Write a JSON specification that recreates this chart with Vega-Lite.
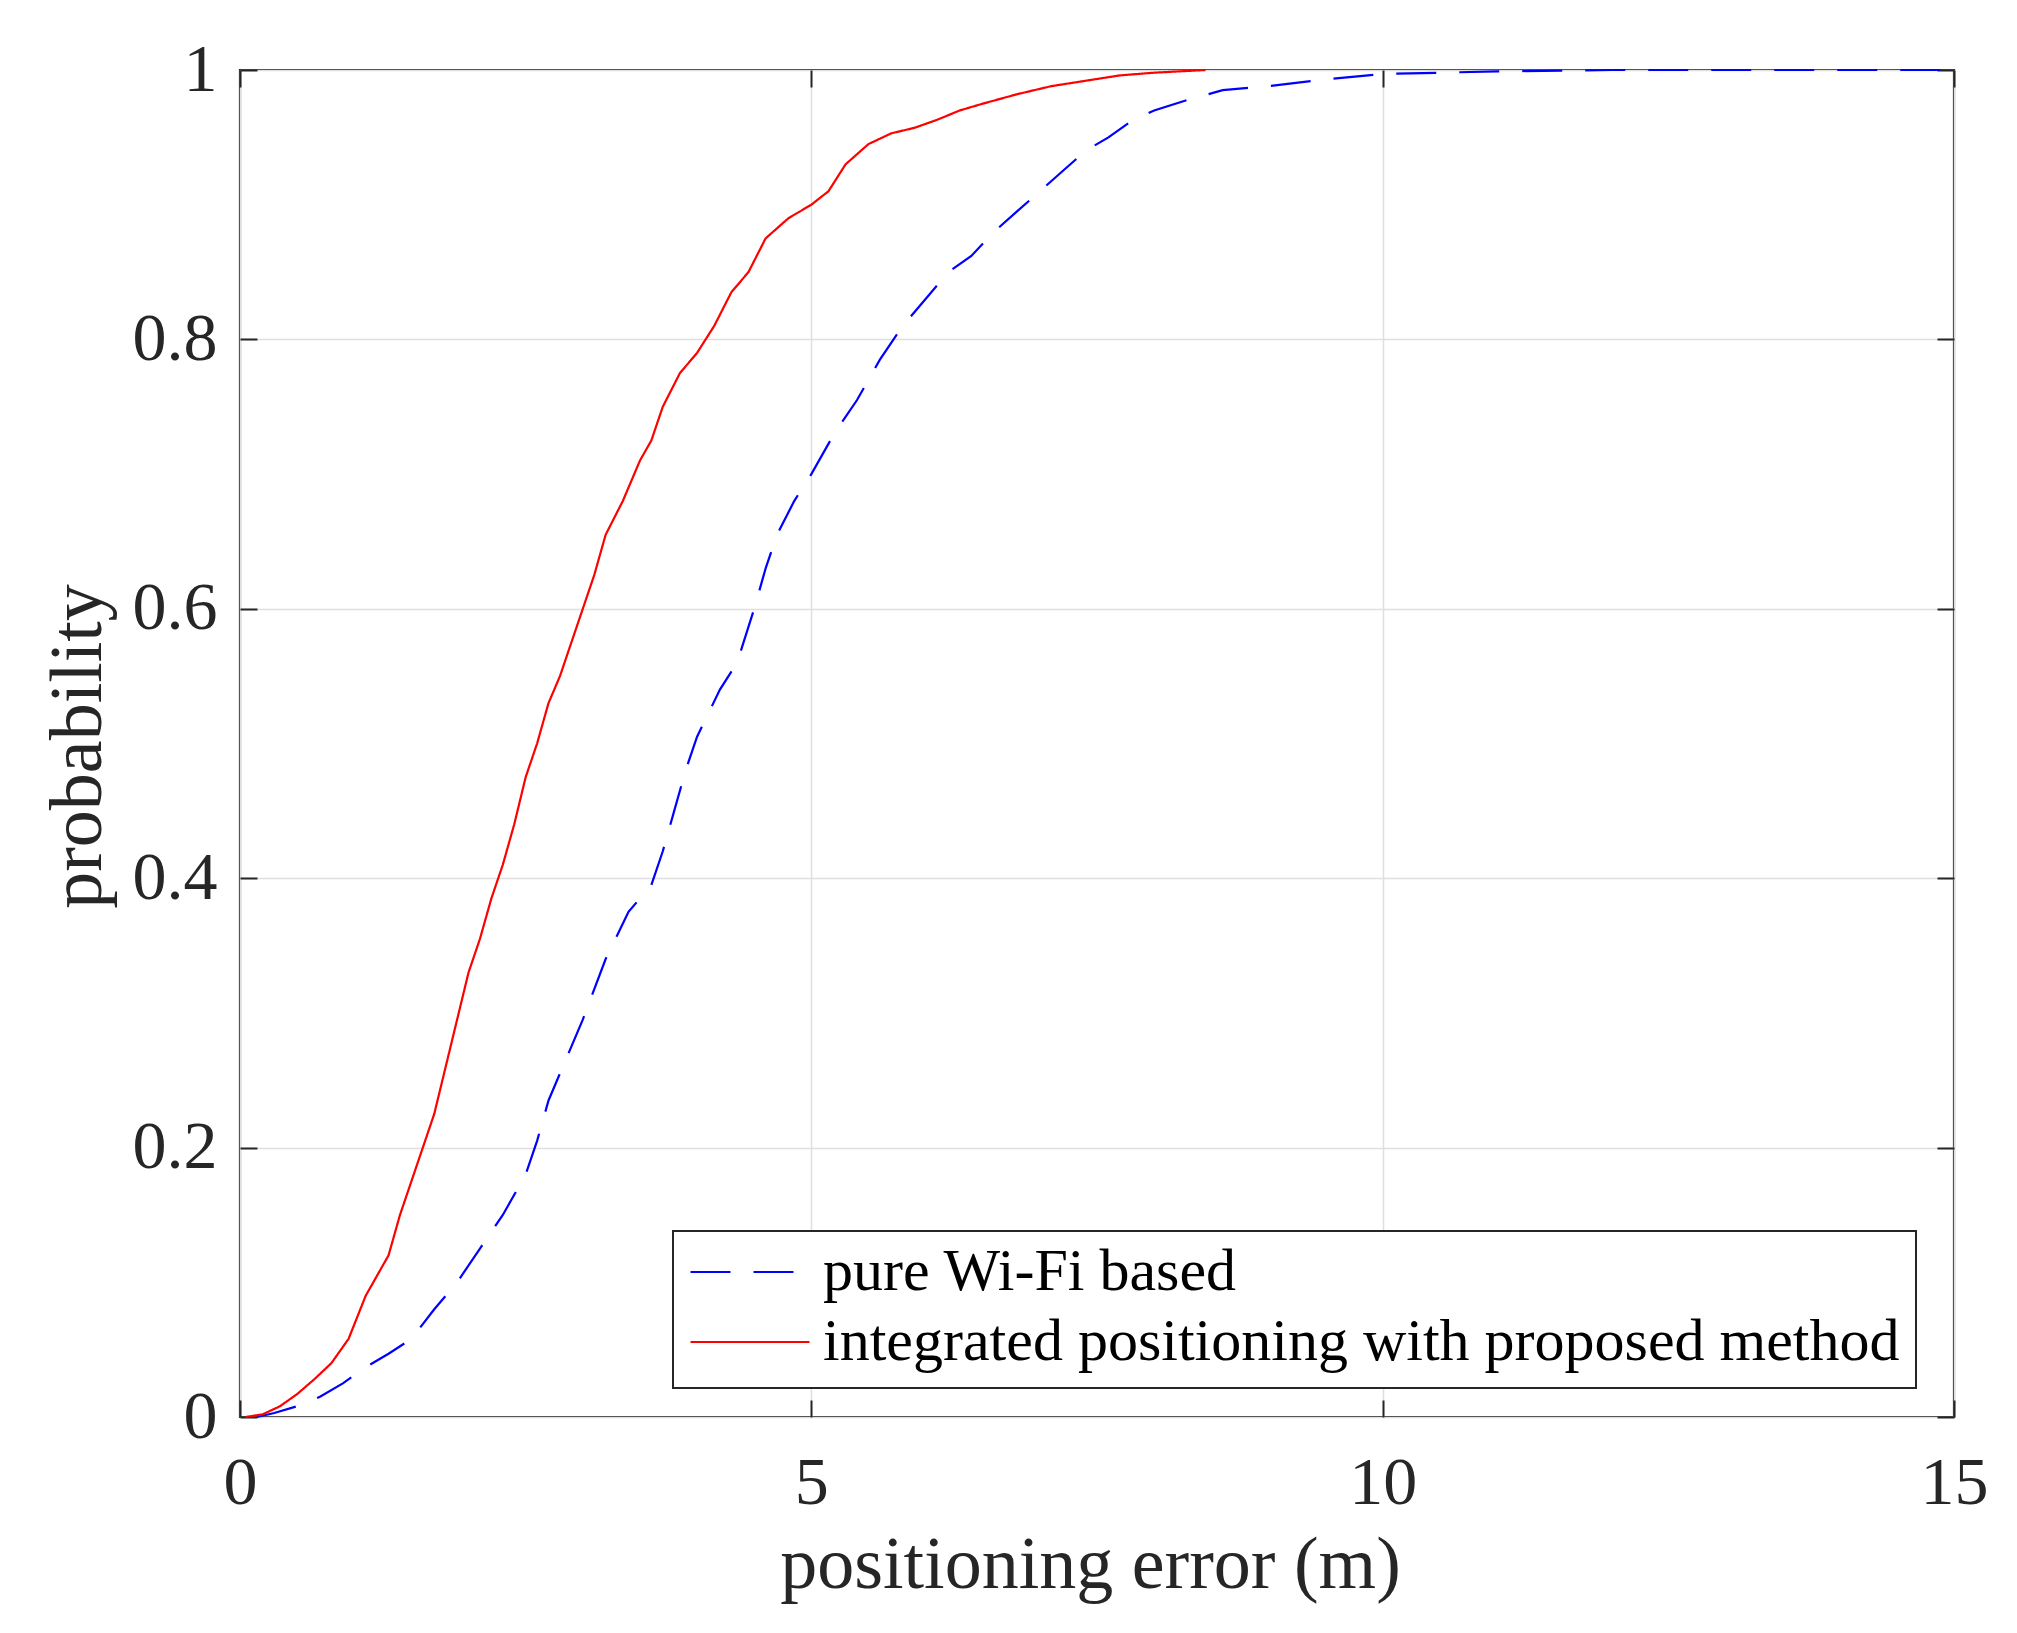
{
  "$schema": "https://vega.github.io/schema/vega-lite/v6.json",
  "autosize": {"type": "none"},
  "padding": {"left": 240, "top": 70, "right": 63, "bottom": 216},
  "width": 1714,
  "height": 1347,
  "background": "white",
  "config": {
    "view": {"stroke": "#262626", "strokeWidth": 2.2},
    "font": "Liberation Serif"
  },
  "datasets": {
    "cdf": [
      {"series": "pure Wi-Fi based", "error": 0.15, "prob": 0},
      {"series": "pure Wi-Fi based", "error": 0.3, "prob": 0.003},
      {"series": "pure Wi-Fi based", "error": 0.5, "prob": 0.008},
      {"series": "pure Wi-Fi based", "error": 0.7, "prob": 0.015},
      {"series": "pure Wi-Fi based", "error": 0.9, "prob": 0.025},
      {"series": "pure Wi-Fi based", "error": 1.1, "prob": 0.037},
      {"series": "pure Wi-Fi based", "error": 1.3, "prob": 0.047},
      {"series": "pure Wi-Fi based", "error": 1.5, "prob": 0.058},
      {"series": "pure Wi-Fi based", "error": 1.7, "prob": 0.08},
      {"series": "pure Wi-Fi based", "error": 1.9, "prob": 0.1},
      {"series": "pure Wi-Fi based", "error": 2.1, "prob": 0.125},
      {"series": "pure Wi-Fi based", "error": 2.3, "prob": 0.15},
      {"series": "pure Wi-Fi based", "error": 2.5, "prob": 0.18},
      {"series": "pure Wi-Fi based", "error": 2.6, "prob": 0.205},
      {"series": "pure Wi-Fi based", "error": 2.7, "prob": 0.235},
      {"series": "pure Wi-Fi based", "error": 2.8, "prob": 0.255},
      {"series": "pure Wi-Fi based", "error": 3.0, "prob": 0.295},
      {"series": "pure Wi-Fi based", "error": 3.2, "prob": 0.34},
      {"series": "pure Wi-Fi based", "error": 3.4, "prob": 0.375},
      {"series": "pure Wi-Fi based", "error": 3.6, "prob": 0.395},
      {"series": "pure Wi-Fi based", "error": 3.7, "prob": 0.42},
      {"series": "pure Wi-Fi based", "error": 3.8, "prob": 0.45},
      {"series": "pure Wi-Fi based", "error": 3.9, "prob": 0.48},
      {"series": "pure Wi-Fi based", "error": 4.0, "prob": 0.505},
      {"series": "pure Wi-Fi based", "error": 4.2, "prob": 0.54},
      {"series": "pure Wi-Fi based", "error": 4.35, "prob": 0.56},
      {"series": "pure Wi-Fi based", "error": 4.5, "prob": 0.6},
      {"series": "pure Wi-Fi based", "error": 4.6, "prob": 0.63},
      {"series": "pure Wi-Fi based", "error": 4.7, "prob": 0.655},
      {"series": "pure Wi-Fi based", "error": 4.85, "prob": 0.68},
      {"series": "pure Wi-Fi based", "error": 5.0, "prob": 0.7},
      {"series": "pure Wi-Fi based", "error": 5.2, "prob": 0.73},
      {"series": "pure Wi-Fi based", "error": 5.4, "prob": 0.755},
      {"series": "pure Wi-Fi based", "error": 5.6, "prob": 0.785},
      {"series": "pure Wi-Fi based", "error": 5.8, "prob": 0.81},
      {"series": "pure Wi-Fi based", "error": 6.0, "prob": 0.83},
      {"series": "pure Wi-Fi based", "error": 6.2, "prob": 0.85},
      {"series": "pure Wi-Fi based", "error": 6.4, "prob": 0.862},
      {"series": "pure Wi-Fi based", "error": 6.6, "prob": 0.88},
      {"series": "pure Wi-Fi based", "error": 6.8, "prob": 0.895},
      {"series": "pure Wi-Fi based", "error": 7.0, "prob": 0.91},
      {"series": "pure Wi-Fi based", "error": 7.2, "prob": 0.925},
      {"series": "pure Wi-Fi based", "error": 7.4, "prob": 0.94},
      {"series": "pure Wi-Fi based", "error": 7.6, "prob": 0.95},
      {"series": "pure Wi-Fi based", "error": 7.8, "prob": 0.962},
      {"series": "pure Wi-Fi based", "error": 8.0, "prob": 0.97},
      {"series": "pure Wi-Fi based", "error": 8.3, "prob": 0.978},
      {"series": "pure Wi-Fi based", "error": 8.6, "prob": 0.985},
      {"series": "pure Wi-Fi based", "error": 9.0, "prob": 0.988},
      {"series": "pure Wi-Fi based", "error": 9.5, "prob": 0.993},
      {"series": "pure Wi-Fi based", "error": 10.0, "prob": 0.997},
      {"series": "pure Wi-Fi based", "error": 10.5, "prob": 0.998},
      {"series": "pure Wi-Fi based", "error": 11.0, "prob": 0.999},
      {"series": "pure Wi-Fi based", "error": 12.0, "prob": 1.0},
      {"series": "pure Wi-Fi based", "error": 15.0, "prob": 1.0},
      {"series": "integrated positioning with proposed method", "error": 0.05, "prob": 0},
      {"series": "integrated positioning with proposed method", "error": 0.2, "prob": 0.002},
      {"series": "integrated positioning with proposed method", "error": 0.35, "prob": 0.008},
      {"series": "integrated positioning with proposed method", "error": 0.5, "prob": 0.017},
      {"series": "integrated positioning with proposed method", "error": 0.65, "prob": 0.028},
      {"series": "integrated positioning with proposed method", "error": 0.8, "prob": 0.04},
      {"series": "integrated positioning with proposed method", "error": 0.95, "prob": 0.058},
      {"series": "integrated positioning with proposed method", "error": 1.1, "prob": 0.09},
      {"series": "integrated positioning with proposed method", "error": 1.2, "prob": 0.105},
      {"series": "integrated positioning with proposed method", "error": 1.3, "prob": 0.12},
      {"series": "integrated positioning with proposed method", "error": 1.4, "prob": 0.15},
      {"series": "integrated positioning with proposed method", "error": 1.5, "prob": 0.175},
      {"series": "integrated positioning with proposed method", "error": 1.6, "prob": 0.2},
      {"series": "integrated positioning with proposed method", "error": 1.7, "prob": 0.225},
      {"series": "integrated positioning with proposed method", "error": 1.8, "prob": 0.26},
      {"series": "integrated positioning with proposed method", "error": 1.9, "prob": 0.295},
      {"series": "integrated positioning with proposed method", "error": 2.0, "prob": 0.33},
      {"series": "integrated positioning with proposed method", "error": 2.1, "prob": 0.355},
      {"series": "integrated positioning with proposed method", "error": 2.2, "prob": 0.385},
      {"series": "integrated positioning with proposed method", "error": 2.3, "prob": 0.41},
      {"series": "integrated positioning with proposed method", "error": 2.4, "prob": 0.44},
      {"series": "integrated positioning with proposed method", "error": 2.5, "prob": 0.475},
      {"series": "integrated positioning with proposed method", "error": 2.6, "prob": 0.5},
      {"series": "integrated positioning with proposed method", "error": 2.7, "prob": 0.53},
      {"series": "integrated positioning with proposed method", "error": 2.8, "prob": 0.55},
      {"series": "integrated positioning with proposed method", "error": 2.9, "prob": 0.575},
      {"series": "integrated positioning with proposed method", "error": 3.0, "prob": 0.6},
      {"series": "integrated positioning with proposed method", "error": 3.1, "prob": 0.625},
      {"series": "integrated positioning with proposed method", "error": 3.2, "prob": 0.655},
      {"series": "integrated positioning with proposed method", "error": 3.35, "prob": 0.68},
      {"series": "integrated positioning with proposed method", "error": 3.5, "prob": 0.71},
      {"series": "integrated positioning with proposed method", "error": 3.6, "prob": 0.725},
      {"series": "integrated positioning with proposed method", "error": 3.7, "prob": 0.75},
      {"series": "integrated positioning with proposed method", "error": 3.85, "prob": 0.775},
      {"series": "integrated positioning with proposed method", "error": 4.0, "prob": 0.79},
      {"series": "integrated positioning with proposed method", "error": 4.15, "prob": 0.81},
      {"series": "integrated positioning with proposed method", "error": 4.3, "prob": 0.835},
      {"series": "integrated positioning with proposed method", "error": 4.45, "prob": 0.85},
      {"series": "integrated positioning with proposed method", "error": 4.6, "prob": 0.875},
      {"series": "integrated positioning with proposed method", "error": 4.8, "prob": 0.89},
      {"series": "integrated positioning with proposed method", "error": 5.0, "prob": 0.9},
      {"series": "integrated positioning with proposed method", "error": 5.15, "prob": 0.91},
      {"series": "integrated positioning with proposed method", "error": 5.3, "prob": 0.93},
      {"series": "integrated positioning with proposed method", "error": 5.5, "prob": 0.945},
      {"series": "integrated positioning with proposed method", "error": 5.7, "prob": 0.953},
      {"series": "integrated positioning with proposed method", "error": 5.9, "prob": 0.957},
      {"series": "integrated positioning with proposed method", "error": 6.1, "prob": 0.963},
      {"series": "integrated positioning with proposed method", "error": 6.3, "prob": 0.97},
      {"series": "integrated positioning with proposed method", "error": 6.5, "prob": 0.975},
      {"series": "integrated positioning with proposed method", "error": 6.8, "prob": 0.982},
      {"series": "integrated positioning with proposed method", "error": 7.1, "prob": 0.988},
      {"series": "integrated positioning with proposed method", "error": 7.4, "prob": 0.992},
      {"series": "integrated positioning with proposed method", "error": 7.7, "prob": 0.996},
      {"series": "integrated positioning with proposed method", "error": 8.0, "prob": 0.998},
      {"series": "integrated positioning with proposed method", "error": 8.45, "prob": 1.0}
    ]
  },
  "data": {"name": "cdf"},
  "layer": [
    {
      "mark": {"type": "line", "strokeWidth": 2.2, "interpolate": "linear"},
      "encoding": {
        "x": {
          "field": "error", "type": "quantitative",
          "scale": {"domain": [0, 15], "nice": false, "zero": false},
          "axis": {
            "orient": "bottom",
            "values": [0, 5, 10, 15],
            "title": "positioning error (m)",
            "titleFont": "Liberation Serif", "titleFontSize": 74, "titleFontWeight": "normal",
            "titleColor": "#262626", "titleBaseline": "alphabetic", "titleY": 170, "titleX": 850,
            "titleAnchor": "start", "titleAlign": "center",
            "labelFont": "Liberation Serif", "labelFontSize": 68, "labelColor": "#262626",
            "labelFlush": false, "labelOverlap": false, "labelBound": false,
            "labelPadding": 49, "tickSize": -17, "tickColor": "#262626", "tickWidth": 2,
            "domain": false,
            "grid": true, "gridColor": "#dfdfdf", "gridWidth": 1.5
          }
        },
        "y": {
          "field": "prob", "type": "quantitative",
          "scale": {"domain": [0, 1], "nice": false},
          "axis": {
            "orient": "left",
            "values": [0, 0.2, 0.4, 0.6, 0.8, 1],
            "format": "~g",
            "title": "probability",
            "titleFont": "Liberation Serif", "titleFontSize": 74, "titleFontWeight": "normal",
            "titleColor": "#262626", "titleBaseline": "alphabetic", "titleX": -140, "titleY": 676,
            "titleAnchor": "start", "titleAlign": "center", "titleAngle": 270,
            "labelFont": "Liberation Serif", "labelFontSize": 68, "labelColor": "#262626",
            "labelFlush": false, "labelOverlap": false, "labelBound": false,
            "labelPadding": 40, "tickSize": -17, "tickColor": "#262626", "tickWidth": 2,
            "domain": false,
            "grid": true, "gridColor": "#dfdfdf", "gridWidth": 1.5
          }
        },
        "color": {
          "field": "series", "type": "nominal",
          "scale": {
            "domain": ["pure Wi-Fi based", "integrated positioning with proposed method"],
            "range": ["#0000ff", "#ff0000"]
          },
          "legend": {
            "orient": "none", "legendX": 433, "legendY": 1161,
            "title": null,
            "direction": "vertical",
            "symbolType": "stroke", "symbolSize": 14161, "symbolStrokeWidth": 2.2,
            "clipHeight": 50, "rowPadding": 10, "padding": 16,
            "labelFont": "Liberation Serif", "labelFontSize": 60, "labelColor": "#000000",
            "labelOffset": 12, "labelLimit": 3000,
            "labelExpr": "datum.label + '\u00a0'",
            "fillColor": "#ffffff", "strokeColor": "#262626",
            "encode": {"legend": {"update": {"strokeWidth": {"value": 2}}}}
          }
        },
        "strokeDash": {
          "field": "series", "type": "nominal",
          "scale": {
            "domain": ["pure Wi-Fi based", "integrated positioning with proposed method"],
            "range": [[40, 23], [1, 0]]
          },
          "legend": null
        }
      }
    },
    {
      "mark": {"type": "line", "opacity": 0},
      "encoding": {
        "x": {
          "field": "error", "type": "quantitative",
          "axis": {
            "orient": "top", "values": [0, 5, 10, 15], "labels": false, "title": null,
            "tickSize": -17, "tickColor": "#262626", "tickWidth": 2, "domain": false, "grid": false
          }
        },
        "y": {
          "field": "prob", "type": "quantitative",
          "axis": {
            "orient": "right", "values": [0, 0.2, 0.4, 0.6, 0.8, 1], "labels": false, "title": null,
            "tickSize": -17, "tickColor": "#262626", "tickWidth": 2, "domain": false, "grid": false
          }
        },
        "detail": {"field": "series", "type": "nominal"}
      }
    }
  ],
  "resolve": {"axis": {"x": "independent", "y": "independent"}}
}
